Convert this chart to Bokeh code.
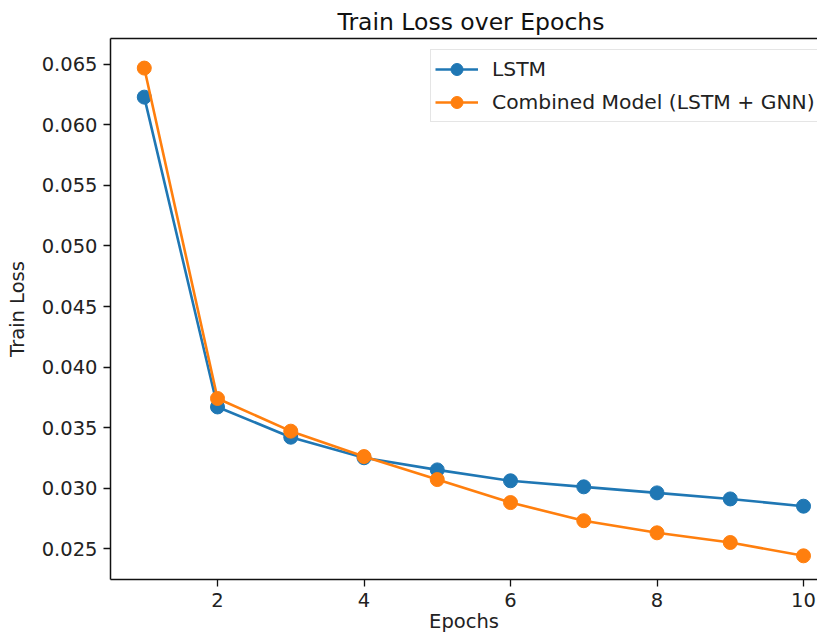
from bokeh.plotting import figure
from bokeh.models import FixedTicker, NumeralTickFormatter, Range1d, LinearAxis, Title, Legend
from bokeh.embed import file_html
from bokeh.resources import INLINE

epochs = [1, 2, 3, 4, 5, 6, 7, 8, 9, 10]
lstm_loss = [0.0623, 0.0367, 0.0342, 0.0325, 0.0315, 0.0306, 0.0301, 0.0296, 0.0291, 0.0285]
combined_loss = [0.0647, 0.0374, 0.0347, 0.0326, 0.0307, 0.0288, 0.0273, 0.0263, 0.0255, 0.0244]
x_ticks = [2, 4, 6, 8, 10]
y_ticks = [0.025, 0.030, 0.035, 0.040, 0.045, 0.050, 0.055, 0.060, 0.065]

FONT = "DejaVu Sans"
FS = "19.5px"

p = figure(width=817, height=635, output_backend="svg", toolbar_location=None,
           x_range=Range1d(0.539, 10.191), y_range=Range1d(0.022443, 0.067144),
           min_border_left=110, min_border_right=0, min_border_top=38, min_border_bottom=55)
p.outline_line_color = None
p.xgrid.visible = False
p.ygrid.visible = False
p.background_fill_color = "white"
p.border_fill_color = "white"

blue = "#1f77b4"
orange = "#ff7f0e"

l1 = p.line(epochs, lstm_loss, line_color=blue, line_width=2.6)
s1 = p.scatter(epochs, lstm_loss, marker="circle", size=14, fill_color=blue, line_color=blue)
l2 = p.line(epochs, combined_loss, line_color=orange, line_width=2.6)
s2 = p.scatter(epochs, combined_loss, marker="circle", size=14, fill_color=orange, line_color=orange)

for ax in (p.xaxis[0], p.yaxis[0]):
    ax.axis_line_color = "#111111"
    ax.axis_line_width = 1.5
    ax.major_tick_line_color = "#111111"
    ax.major_tick_line_width = 1.3
    ax.major_tick_out = 7
    ax.major_tick_in = 0
    ax.minor_tick_line_color = None
    ax.major_label_text_font = FONT
    ax.major_label_text_font_size = FS
    ax.major_label_text_color = "#222222"
    ax.axis_label_text_font = FONT
    ax.axis_label_text_font_size = FS
    ax.axis_label_text_font_style = "normal"
    ax.axis_label_text_color = "#222222"

p.xaxis[0].ticker = FixedTicker(ticks=x_ticks)
p.yaxis[0].ticker = FixedTicker(ticks=y_ticks)
p.yaxis[0].formatter = NumeralTickFormatter(format="0.000")
p.xaxis[0].axis_label = "Epochs"
p.yaxis[0].axis_label = "Train Loss"
p.xaxis[0].axis_label_standoff = 0
p.yaxis[0].axis_label_standoff = 10
p.xaxis[0].major_label_standoff = 6
p.yaxis[0].major_label_standoff = 6

top = LinearAxis(ticker=FixedTicker(ticks=[]), major_label_text_font_size="0px",
                 axis_line_color="#111111", axis_line_width=1.5,
                 major_tick_line_color=None, minor_tick_line_color=None,
                 major_tick_out=0, major_tick_in=0, major_label_standoff=0)
p.add_layout(top, "above")

p.title = Title(text="Train Loss over Epochs", align="left", offset=227, text_font=FONT,
                text_font_size="23.5px", text_font_style="normal", text_color="#111111",
                standoff=6)

legend = Legend(items=[("LSTM", [l1, s1]), ("Combined Model (LSTM + GNN)", [l2, s2])],
                location=(320, 457))
legend.label_text_font = FONT
legend.label_text_font_size = "20.3px"
legend.label_text_color = "#222222"
legend.glyph_width = 43
legend.glyph_height = 30
legend.label_height = 30
legend.label_standoff = 14
legend.spacing = 3
legend.padding = 4
legend.margin = 0
legend.border_line_color = "#cccccc"
legend.border_line_width = 1
legend.background_fill_alpha = 0.9
p.add_layout(legend, "center")

open("out.html", "w").write(file_html(p, INLINE))
